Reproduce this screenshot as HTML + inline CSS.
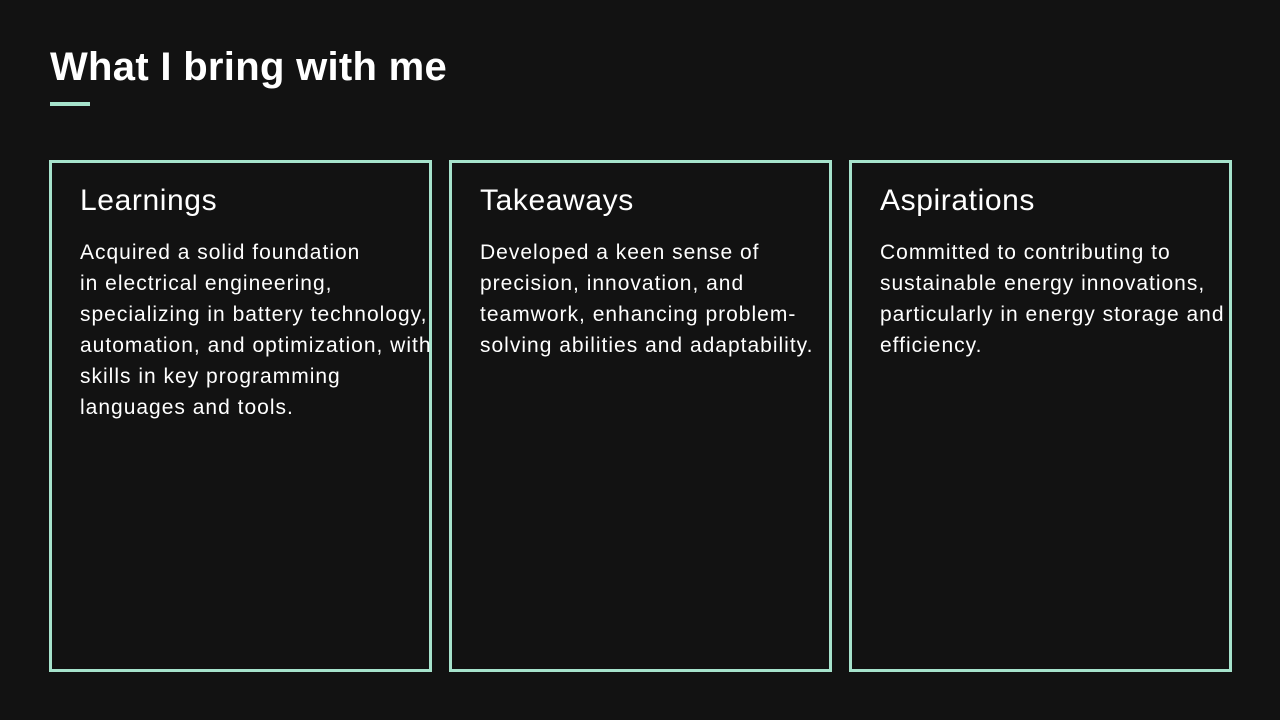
<!DOCTYPE html>
<html><head><meta charset="utf-8"><style>
body{margin:0;width:1280px;height:720px;background:#121212;overflow:hidden;font-family:"Liberation Sans",sans-serif;color:#fff;position:relative}
h1{position:absolute;left:50px;top:42px;margin:0;font-size:40px;font-weight:bold;letter-spacing:0.3px;line-height:50px}
.bar{position:absolute;left:50px;top:102px;width:40px;height:4px;background:#a6e3cc}
.box{position:absolute;top:160px;width:377px;height:506px;border:3px solid #a6e3cc}
.box h2{position:absolute;left:28px;top:20px;margin:0;font-size:30px;font-weight:normal;line-height:36px;white-space:nowrap;letter-spacing:0.6px}
.box p{position:absolute;left:28px;top:74px;margin:0;font-size:21px;line-height:31px;white-space:nowrap;letter-spacing:1px}
</style></head><body>
<h1>What I bring with me</h1>
<div class="bar"></div>
<div class="box" style="left:49px"><h2>Learnings</h2><p>Acquired a solid foundation<br>in electrical engineering,<br>specializing in battery technology,<br>automation, and optimization, with<br>skills in key programming<br>languages and tools.</p></div>
<div class="box" style="left:449px"><h2>Takeaways</h2><p>Developed a keen sense of<br>precision, innovation, and<br>teamwork, enhancing problem-<br>solving abilities and adaptability.</p></div>
<div class="box" style="left:849px"><h2>Aspirations</h2><p>Committed to contributing to<br>sustainable energy innovations,<br>particularly in energy storage and<br>efficiency.</p></div>
</body></html>
